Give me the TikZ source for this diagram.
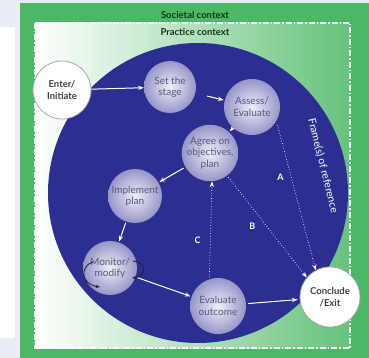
\documentclass[tikz,border=0pt]{standalone}
\usepackage{fontspec}
\setmainfont{Lato}
\usepackage{tikz}
\usetikzlibrary{arrows.meta,positioning}
\definecolor{pagegray}{RGB}{232,238,244}
\definecolor{panelgreen}{RGB}{74,184,100}
\definecolor{deepblue}{RGB}{44,46,146}
\definecolor{nodelight}{RGB}{238,238,250}
\definecolor{nodedark}{RGB}{150,150,200}
\definecolor{nodetext}{RGB}{88,88,122}
\definecolor{labelgreen}{RGB}{24,52,30}

\begin{document}
\begin{tikzpicture} [x=1pt,y=-1pt,{stepnode/.style={circle,inner sep=0pt,minimum size=54pt,inner color=nodelight,outer color=nodedark,font=\fontsize{10}{11.5}\selectfont,text=nodetext,align=center}},{endnode/.style={circle,draw=gray!70,line width=0.8pt,fill=white,inner sep=0pt,minimum size=58pt,font=\fontsize{9.5}{12.5}\selectfont\bfseries,text=black!75,align=center}},{flow/.style={-{Stealth[length=2mm]},white,line width=1pt}},{route/.style={-{Stealth[length=2mm]},white,dotted,line width=0.7pt}},{letter/.style={white,font=\fontsize{9}{10}\selectfont\bfseries}},{loop/.style={-{Stealth[length=1.5mm]},black!85,line width=0.9pt}}]
		\useasboundingbox (0,0) rectangle (369,358);
		%%page background
		\fill [pagegray] (0,0) rectangle (369,358);
		\fill [white] (0,27) rectangle (15,338);
		%%contexts
		\fill [panelgreen] (20,3) rectangle (369,358);
		\shade [left color=white,right color=panelgreen!85!white] (35,23) rectangle (350,348);
		\draw [white,line width=1.2pt,dash pattern=on 6pt off 2pt on 1.5pt off 2pt] (35,23) rectangle (350,348);
		\node at (195,15) [font=\fontsize{9.5}{10}\selectfont\bfseries,text=labelgreen] (societal) {Societal context};
		\node at (195,32) [font=\fontsize{9.5}{10}\selectfont\bfseries,text=labelgreen] (practice) {Practice context};
		%%frame of reference
		\fill [deepblue] (198,193) circle (150);
		\node at (323,166) [rotate=-76,white,font=\fontsize{10.5}{12}\selectfont] (frame) {Frame(s) of reference};
		
		%%stages
		\node at (62,90) [endnode] (enter) {Enter/\\Initiate};
		\node at (170,87) [stepnode,minimum size=52pt] (stage) {Set the\\stage};
		\node at (252,107) [stepnode,minimum size=56pt] (assess) {Assess/\\Evaluate};
		\node at (210,153) [stepnode] (agree) {Agree on\\objectives,\\plan};
		\node at (135,196) [stepnode] (implement) {Implement\\plan};
		\node at (110,268) [stepnode] (monitor) {Monitor/\\modify};
		\node at (218,306) [stepnode,minimum size=56pt] (outcome) {Evaluate\\outcome};
		\node at (330,297) [endnode,minimum size=60pt] (conclude) {Conclude\\/Exit};
		
		%%main cycle
		\draw [flow] (enter) -- (stage);
		\draw [flow,shorten <=12pt,shorten >=1pt] (stage) -- (assess);
		\draw [flow,shorten <=3pt,shorten >=1pt] (assess) -- (agree);
		\draw [flow,shorten <=2pt,shorten >=1pt] (agree) -- (implement);
		\draw [flow,shorten <=1pt,shorten >=1pt] (implement) -- (monitor);
		\draw [flow,shorten <=2pt,shorten >=1pt] (monitor) -- (outcome);
		\draw [flow,shorten <=2pt,shorten >=2pt] (outcome) -- (conclude);
		%%short cuts
		\draw [route,shorten <=4pt] (assess.-30) -- (conclude.118) node[pos=0.38,left=4pt,letter] (a) {A};
		\draw [route,shorten <=2pt] (agree.-53) -- (conclude.140) node[pos=0.5,left=8pt,letter] (b) {B};
		\draw [route,shorten <=2pt] (outcome.108) -- (agree.-86) node[pos=0.4,left=6pt,letter] (c) {C};
		%%monitor loops
		\draw [loop] (93,262) .. controls (80,266) and (80,284) .. (100,287);
		\draw [loop] (133,261) .. controls (147,262) and (147,276) .. (132,278);
		
	\end{tikzpicture}
\end{document}
